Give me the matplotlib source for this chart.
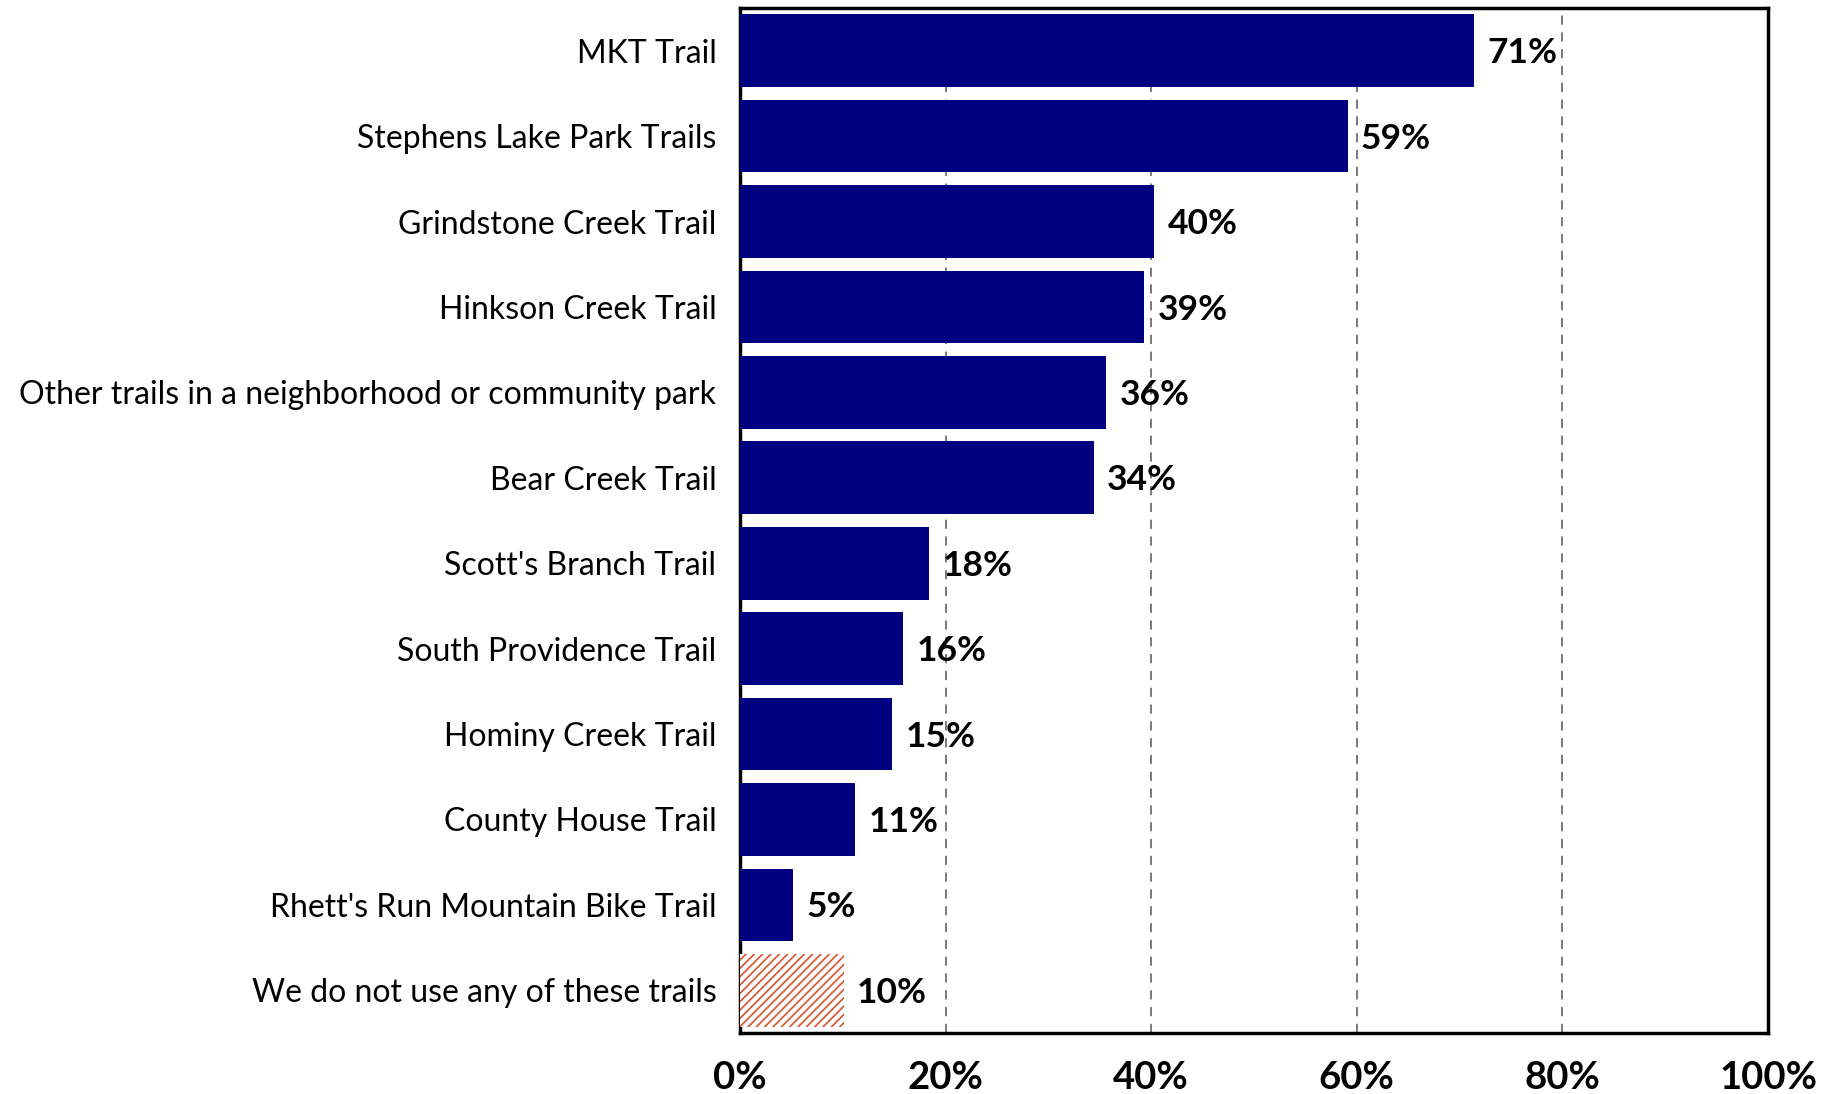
import numpy as np
import matplotlib.pyplot as plt
import matplotlib

matplotlib.rcParams['hatch.linewidth'] = 1.2
plt.rcParams['font.family'] = ['Lato', 'DejaVu Sans']

trails = ["MKT Trail", "Stephens Lake Park Trails", "Grindstone Creek Trail",
          "Hinkson Creek Trail", "Other trails in a neighborhood or community park",
          "Bear Creek Trail", "Scott's Branch Trail", "South Providence Trail",
          "Hominy Creek Trail", "County House Trail",
          "Rhett's Run Mountain Bike Trail", "We do not use any of these trails"]
shares = [71.4, 59.1, 40.3, 39.3, 35.6, 34.4, 18.4, 15.9, 14.8, 11.2, 5.2, 10.1]
share_labels = ["71%", "59%", "40%", "39%", "36%", "34%", "18%", "16%",
                "15%", "11%", "5%", "10%"]
ticks = [0, 20, 40, 60, 80, 100]

fig = plt.figure(figsize=(18.37, 10.94), dpi=100)
ax = fig.add_axes([740 / 1837, 1 - 1033 / 1094, 1028 / 1837, (1033 - 8) / 1094])

y = np.arange(len(trails))
ax.barh(y[:-1], shares[:-1], height=0.85, color='#000080', zorder=3)
ax.barh(y[-1:], shares[-1:], height=0.85, color='white', edgecolor='#d9532c',
        hatch='////', linewidth=0, zorder=3)

for yi, v, lab in zip(y, shares, share_labels):
    ax.text(v + 1.3, yi + 0.03, lab, va='center', ha='left', fontsize=25.5,
            fontweight='bold', zorder=4)

ax.set_xlim(0, 100)
ax.set_ylim(len(trails) - 0.5, -0.5)
ax.set_xticks(ticks)
ax.set_xticklabels([f"{t}%" for t in ticks], fontsize=27.5, fontweight='bold')
ax.set_yticks(y)
ax.set_yticklabels(trails, fontsize=23)
ax.tick_params(axis='both', length=0)
ax.tick_params(axis='y', pad=17)
ax.tick_params(axis='x', pad=20)

for t in ticks[1:-1]:
    ax.axvline(t, color='#555555', linestyle=(0, (6, 5)), linewidth=1.1, zorder=1)

for sp in ax.spines.values():
    sp.set_linewidth(2.5)
    sp.set_color('black')

fig.savefig('out.png', dpi=100)
